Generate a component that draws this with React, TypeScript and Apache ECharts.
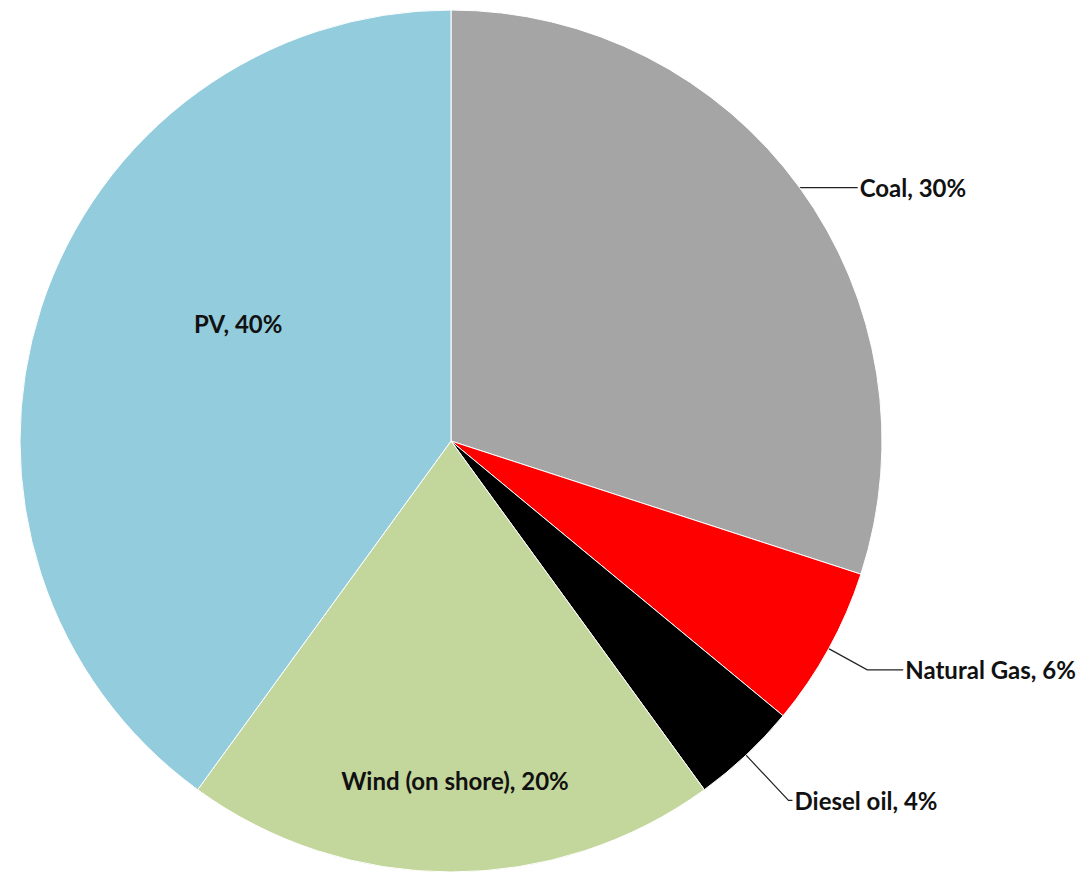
import React, { useEffect, useRef } from "react";
import * as echarts from "echarts";

const categories = ["Coal", "Natural Gas", "Diesel oil", "Wind (on shore)", "PV"];
const shares = [30, 6, 4, 20, 40];
const colors = ["#A5A5A5", "#FF0000", "#000000", "#C3D69B", "#93CDDD"];

export default function App() {
  const ref = useRef<HTMLDivElement>(null);
  useEffect(() => {
    document.body.style.margin = "0";
    const chart = echarts.init(ref.current!, null, { renderer: "svg" });
    const outsideLines: Record<string, { length: number; length2: number }> = {
      Coal: { length: 0, length2: 58 },
      "Natural Gas": { length: 44, length2: 36 },
      "Diesel oil": { length: 62, length2: 4 },
    };
    const insideOffsets: Record<string, number[]> = {
      "Wind (on shore)": [4, 121],
      PV: [-5, -50],
    };
    const data = categories.map((name, i) => {
      const item: any = { name, value: shares[i], itemStyle: { color: colors[i] } };
      if (outsideLines[name]) {
        item.label = { position: "outside" };
        item.labelLine = { show: true, ...outsideLines[name] };
      } else {
        item.label = { position: "inside", offset: insideOffsets[name] };
        item.labelLine = { show: false };
      }
      return item;
    });
    chart.setOption({
      animation: false,
      backgroundColor: "#ffffff",
      series: [
        {
          type: "pie",
          center: [451, 441],
          radius: 431,
          startAngle: 90,
          clockwise: true,
          avoidLabelOverlap: false,
          itemStyle: { borderColor: "#ffffff", borderWidth: 1 },
          label: {
            show: true,
            formatter: (p: any) => `${p.name}, ${p.value}%`,
            fontFamily: "Lato",
            fontWeight: "bold",
            fontSize: 24,
            color: "#111111",
            distanceToLabelLine: 2,
          },
          labelLine: {
            lineStyle: { color: "#222222", width: 1.2 },
          },
          data,
        },
      ],
    });
    return () => chart.dispose();
  }, []);
  return (
    <div
      ref={ref}
      style={{ position: "absolute", left: 0, top: 0, width: 1088, height: 873 }}
    />
  );
}
